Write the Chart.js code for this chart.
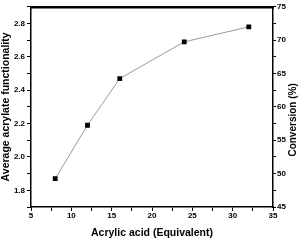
<!DOCTYPE html>
<html>
<head>
<meta charset="utf-8">
<script src="https://cdn.jsdelivr.net/npm/chart.js@4"></script>
<style>
html,body{margin:0;padding:0;background:#fff;}
canvas{display:block;}
</style>
</head>
<body>
<canvas id="c" width="304" height="241"></canvas>
<script>
const acrylicAcid = [8, 12, 16, 24, 32];
const functionality = [1.87, 2.19, 2.47, 2.69, 2.78];
const xTicks = [5, 7.5, 10, 12.5, 15, 17.5, 20, 22.5, 25, 27.5, 30, 32.5, 35];
const xLabels = [5, 10, 15, 20, 25, 30, 35];
const leftTicks = [1.7, 1.8, 1.9, 2.0, 2.1, 2.2, 2.3, 2.4, 2.5, 2.6, 2.7, 2.8, 2.9];
const leftLabels = ['1.8', '2.0', '2.2', '2.4', '2.6', '2.8'];
const rightTicks = [45, 47.5, 50, 52.5, 55, 57.5, 60, 62.5, 65, 67.5, 70, 72.5, 75];
const rightLabels = [45, 50, 55, 60, 65, 70, 75];
const rightTitle = 'Conversion (%)';

const FONT = "'Liberation Sans', Arial, sans-serif";
const tickFont = {family: FONT, size: 8, weight: 'bold'};
const titleFont = {family: FONT, size: 10.5, weight: 'bold'};

function setTicks(arr){ return function(scale){ scale.ticks = arr.map(v => ({value: v})); }; }
function fmtLeft(v){ const s = v.toFixed(1); return leftLabels.includes(s) ? s : ''; }
function fmtNum(list){ return function(v){ return list.includes(v) ? String(v) : ''; }; }

// right axis title reads bottom-to-top, like the left one
const rightTitlePlugin = {
  id: 'rightTitle',
  afterDraw(chart) {
    const s = chart.scales.y2;
    const ctx = chart.ctx;
    ctx.save();
    ctx.translate(s.right - 11, (s.top + s.bottom) / 2 + 13);
    ctx.rotate(-Math.PI / 2);
    ctx.font = "bold 10px " + FONT;
    ctx.fillStyle = '#000';
    ctx.textAlign = 'center';
    ctx.textBaseline = 'middle';
    ctx.fillText(rightTitle, 0, 0);
    ctx.restore();
  }
};

new Chart(document.getElementById('c'), {
  type: 'line',
  data: {
    datasets: [{
      data: acrylicAcid.map((x, i) => ({x: x, y: functionality[i]})),
      borderColor: '#9a9a9a',
      borderWidth: 1,
      pointStyle: 'rect',
      pointRadius: 3.4,
      pointBackgroundColor: '#000',
      pointBorderColor: '#000',
      pointBorderWidth: 0,
      tension: 0,
      xAxisID: 'x',
      yAxisID: 'y'
    }]
  },
  plugins: [rightTitlePlugin],
  options: {
    responsive: false,
    animation: false,
    events: [],
    layout: {padding: {top: 6, left: 0, right: 0, bottom: 0}},
    plugins: {legend: {display: false}, tooltip: {enabled: false}},
    scales: {
      x: {
        type: 'linear', position: 'bottom', min: 5, max: 35,
        afterBuildTicks: setTicks(xTicks),
        afterFit: s => { s.height = 34; },
        border: {color: '#000', width: 1.5},
        grid: {drawOnChartArea: false, tickLength: 4, color: '#000', tickWidth: 1},
        ticks: {font: tickFont, color: '#000', padding: 0, maxRotation: 0, autoSkip: false, callback: fmtNum(xLabels)},
        title: {display: true, text: 'Acrylic acid (Equivalent)', font: titleFont, color: '#000', padding: {top: 0, bottom: 1.5}}
      },
      x2: {
        type: 'linear', position: 'top', min: 5, max: 35,
        afterFit: s => { s.height = 0; },
        border: {color: '#000', width: 2.5},
        grid: {drawOnChartArea: false, drawTicks: false},
        ticks: {display: false}
      },
      y: {
        type: 'linear', position: 'left', min: 1.7, max: 2.9,
        afterBuildTicks: setTicks(leftTicks),
        afterFit: s => { s.width = 31; },
        border: {color: '#000', width: 1.5},
        grid: {drawOnChartArea: false, tickLength: 4, color: '#000', tickWidth: 1},
        ticks: {font: tickFont, color: '#000', padding: 2, autoSkip: false, callback: fmtLeft},
        title: {display: true, text: 'Average acrylate functionality', font: titleFont, color: '#000', padding: {top: 0, bottom: 0}}
      },
      y2: {
        type: 'linear', position: 'right', min: 45, max: 75,
        afterBuildTicks: setTicks(rightTicks),
        afterFit: s => { s.width = 31; },
        border: {color: '#000', width: 1.5},
        grid: {drawOnChartArea: false, tickLength: 3, color: '#000', tickWidth: 1},
        ticks: {font: tickFont, color: '#000', padding: 1, autoSkip: false, callback: fmtNum(rightLabels)},
        title: {display: false}
      }
    }
  }
});
</script>
</body>
</html>
